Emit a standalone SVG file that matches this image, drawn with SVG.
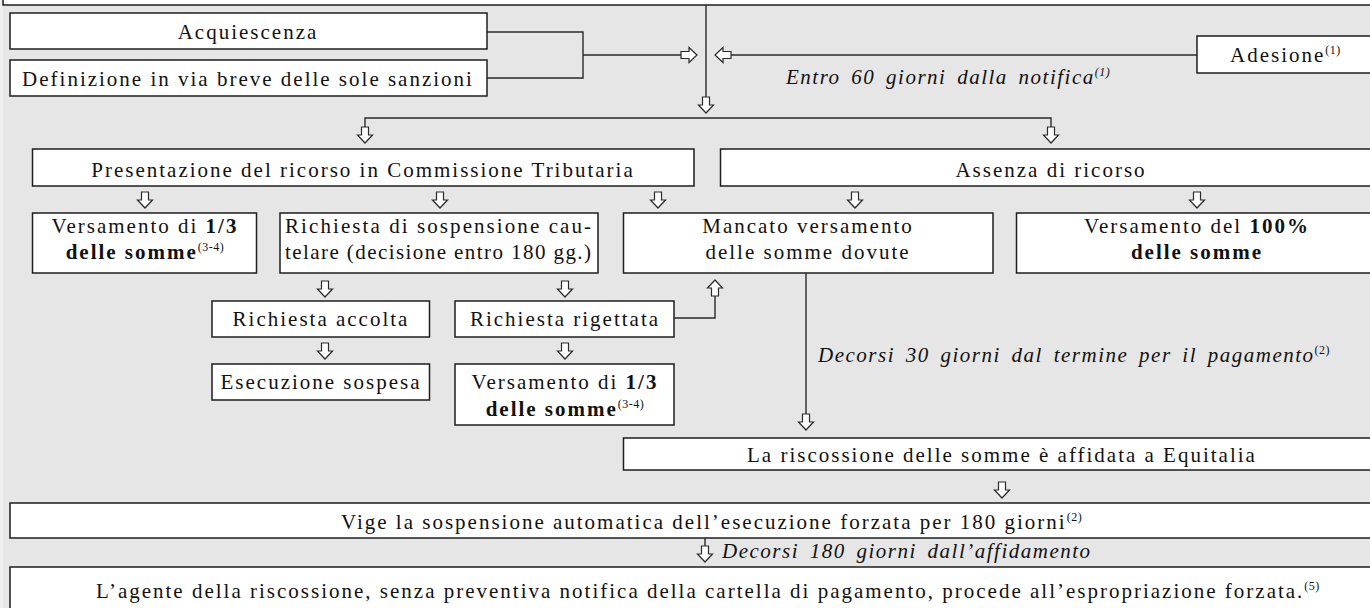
<svg xmlns="http://www.w3.org/2000/svg" width="1370" height="608" viewBox="0 0 1370 608">
<defs>
<style>
.bg{fill:#e6e6e6}
.box{fill:#fff;stroke:#1e1e1e;stroke-width:1.5}
.t{font-family:"Liberation Serif","Times New Roman",serif;font-size:21px;fill:#111;letter-spacing:2px}
.c{text-anchor:middle}
.i{font-style:italic;letter-spacing:1.5px;word-spacing:4px}
.b{font-weight:bold}
.sup{font-size:12px;letter-spacing:0.5px}
.n{font-style:normal}
.ln{fill:none;stroke:#2a2a2a;stroke-width:1.4}
.ar{fill:#fff;stroke:#2a2a2a;stroke-width:1.2}
</style>
<path id="ad" d="M-3.5,-16H3.5V-8H7.5L0,0L-7.5,-8H-3.5Z"/>
</defs>
<rect x="0" y="0" width="1370" height="608" fill="#f0f0f0"/>
<rect class="bg" x="3" y="0" width="1380" height="620"/>

<g id="top"><rect class="box" x="3" y="-30" width="1390" height="35"/></g>
<g id="acquiescenza"><rect class="box" x="10" y="13" width="477" height="36"/><text class="t c" x="248" y="39">Acquiescenza</text></g>
<g id="definizione"><rect class="box" x="10" y="60" width="477" height="36"/><text class="t c" x="248" y="86">Definizione in via breve delle sole sanzioni</text></g>
<g id="adesione"><rect class="box" x="1197" y="36" width="200" height="37"/><text class="t" x="1230" y="62">Adesione<tspan class="sup" dy="-8">(1)</tspan></text></g>
<g id="entro"><text class="t i" x="786" y="84">Entro 60 giorni dalla notifica<tspan class="sup" dy="-8">(1)</tspan></text></g>
<g id="presentazione"><rect class="box" x="32.5" y="149" width="661.5" height="37"/><text class="t c" x="363" y="177">Presentazione del ricorso in Commissione Tributaria</text></g>
<g id="assenza"><rect class="box" x="720.5" y="149" width="700" height="37"/><text class="t c" x="1051" y="177">Assenza di ricorso</text></g>
<g id="versamento1"><rect class="box" x="32.5" y="213" width="224" height="60"/><text class="t c" x="145" y="233">Versamento di <tspan class="b">1/3</tspan></text><text class="t c" x="145" y="259"><tspan class="b">delle somme</tspan><tspan class="sup" dy="-8">(3-4)</tspan></text></g>
<g id="richiesta"><rect class="box" x="280" y="213" width="318" height="60"/><text class="t" x="285" y="233" textLength="308" lengthAdjust="spacing">Richiesta di sospensione cau-</text><text class="t" x="285" y="259" textLength="308" lengthAdjust="spacing">telare (decisione entro 180 gg.)</text></g>
<g id="mancato"><rect class="box" x="623.5" y="213" width="369.5" height="60"/><text class="t c" x="808" y="233">Mancato versamento</text><text class="t c" x="808" y="259">delle somme dovute</text></g>
<g id="versamento100"><rect class="box" x="1016.5" y="213" width="400" height="60"/><text class="t c" x="1197" y="233">Versamento del <tspan class="b">100%</tspan></text><text class="t c b" x="1197" y="259">delle somme</text></g>
<g id="accolta"><rect class="box" x="212" y="301" width="217.5" height="36"/><text class="t c" x="321" y="326">Richiesta accolta</text></g>
<g id="rigettata"><rect class="box" x="455" y="301" width="219" height="36"/><text class="t c" x="565" y="326">Richiesta rigettata</text></g>
<g id="esecuzione"><rect class="box" x="212" y="364" width="217.5" height="36"/><text class="t c" x="321" y="389">Esecuzione sospesa</text></g>
<g id="versamento2"><rect class="box" x="455" y="364" width="219" height="61"/><text class="t c" x="565" y="389">Versamento di <tspan class="b">1/3</tspan></text><text class="t c" x="565" y="416"><tspan class="b">delle somme</tspan><tspan class="sup" dy="-8">(3-4)</tspan></text></g>
<g id="decorsi30"><text class="t i" x="818" y="362">Decorsi 30 giorni dal termine per il pagamento<tspan class="sup n" dy="-8">(2)</tspan></text></g>
<g id="equitalia"><rect class="box" x="623.5" y="438" width="800" height="32"/><text class="t c" x="1002" y="462">La riscossione delle somme è affidata a Equitalia</text></g>
<g id="vige"><rect class="box" x="10" y="503" width="1400" height="35"/><text class="t" x="341" y="529">Vige la sospensione automatica dell’esecuzione forzata per 180 giorni<tspan class="sup" dy="-8">(2)</tspan></text></g>
<g id="decorsi180"><text class="t i" x="722" y="558">Decorsi 180 giorni dall’affidamento</text></g>
<g id="agente"><rect class="box" x="10" y="567" width="1400" height="60"/><text class="t" x="96" y="598">L’agente della riscossione, senza preventiva notifica della cartella di pagamento, procede all’espropriazione forzata.<tspan class="sup" dy="-8">(5)</tspan></text></g>

<g id="connectors">
<path class="ln" d="M706,5V97"/>
<path class="ln" d="M487,32H583V78H487M583,55H681"/>
<path class="ln" d="M1197,55H731"/>
<path class="ln" d="M365,127V118H1051V127"/>
<path class="ln" d="M674,318H715V296"/>
<path class="ln" d="M806,273V414"/>
<path class="ln" d="M705,538V546"/>
<use href="#ad" class="ar" transform="translate(706,113)"/>
<use href="#ad" class="ar" transform="translate(697,55) rotate(-90)"/>
<use href="#ad" class="ar" transform="translate(715,55) rotate(90)"/>
<use href="#ad" class="ar" transform="translate(365,143)"/>
<use href="#ad" class="ar" transform="translate(1051,143)"/>
<use href="#ad" class="ar" transform="translate(145,208)"/>
<use href="#ad" class="ar" transform="translate(440,208)"/>
<use href="#ad" class="ar" transform="translate(658,208)"/>
<use href="#ad" class="ar" transform="translate(855,208)"/>
<use href="#ad" class="ar" transform="translate(1197,208)"/>
<use href="#ad" class="ar" transform="translate(325,297)"/>
<use href="#ad" class="ar" transform="translate(565,297)"/>
<use href="#ad" class="ar" transform="translate(715,280) rotate(180)"/>
<use href="#ad" class="ar" transform="translate(325,359)"/>
<use href="#ad" class="ar" transform="translate(565,359)"/>
<use href="#ad" class="ar" transform="translate(806,430)"/>
<use href="#ad" class="ar" transform="translate(1002,498)"/>
<use href="#ad" class="ar" transform="translate(705,562)"/>
</g>
</svg>
